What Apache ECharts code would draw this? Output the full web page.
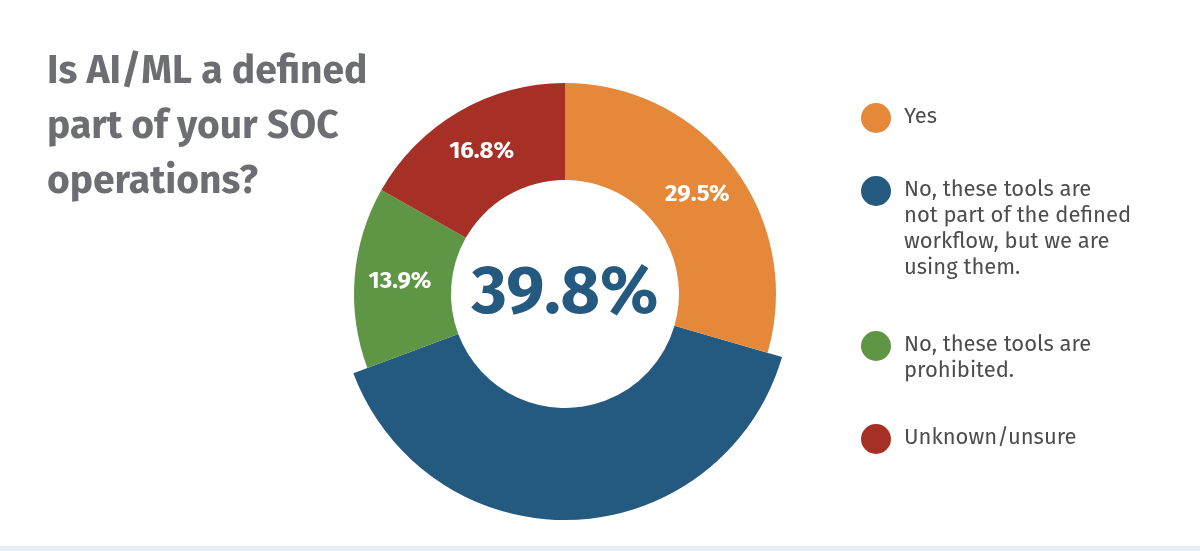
<!DOCTYPE html>
<html><head><meta charset="utf-8">
<script src="https://cdn.jsdelivr.net/npm/echarts@6/dist/echarts.min.js"></script>
<style>html,body{margin:0;padding:0;background:#fff}#c{width:1200px;height:551px}</style>
</head><body><div id="c"></div>
<script>
const categories = ["Yes","No, these tools are not part of the defined workflow, but we are using them.","No, these tools are prohibited.","Unknown/unsure"];
const legendLines = [["Yes"],["No, these tools are","not part of the defined","workflow, but we are","using them."],["No, these tools are","prohibited."],["Unknown/unsure"]];
const values = [29.5, 39.8, 13.9, 16.8];
const colors = ["#e5883a","#245a80","#5e9646","#a62f26"];
const highlightIndex = 1;

const chart = echarts.init(document.getElementById('c'));
const font = "'Fira Sans','Open Sans',sans-serif";
const base = values.map((v,i)=>({name:categories[i],value:v,itemStyle:{color:i===highlightIndex?'rgba(0,0,0,0)':colors[i]},label:{show:i!==highlightIndex}}));
const big = values.map((v,i)=>({name:categories[i],value:v,itemStyle:{color:i===highlightIndex?colors[i]:'rgba(0,0,0,0)'},label:{show:false}}));

const legendTops=[104,177,332,425];
const graphic=[];
legendLines.forEach((lines,i)=>{
  graphic.push({type:'circle',shape:{cx:876,cy:legendTops[i]+14,r:15},style:{fill:colors[i]}});
  graphic.push({type:'text',left:904,top:legendTops[i],style:{text:lines.join('\n'),fontSize:22,lineHeight:26,fill:'#4d4d4f',fontFamily:font}});
});
graphic.push({type:'rect',shape:{x:0,y:546,width:1200,height:5},style:{fill:'#e6ecf3'}});

chart.setOption({
  backgroundColor:'#fff',
  title:{text:'Is AI/ML a defined\npart of your SOC\noperations?',left:42,top:40,textStyle:{fontSize:39,fontWeight:'bold',color:'#6d6e71',lineHeight:55,fontFamily:font}},
  graphic,
  series:[
    {type:'pie',center:[565,294],radius:[114,211],startAngle:90,clockwise:true,silent:true,
     data:base,label:{position:'inside',color:'#fff',fontSize:24,fontWeight:'bold',fontFamily:font,formatter:p=>p.value.toFixed(1)+'%'},labelLine:{show:false}},
    {type:'pie',center:[565,294],radius:[114,226],startAngle:90,clockwise:true,silent:true,z:1,
     data:big,label:{show:false},labelLine:{show:false}},
    {type:'pie',center:[565,294],radius:[0,0],silent:true,data:[{value:1,itemStyle:{color:'transparent'}}],
     label:{show:true,position:'center',formatter:values[highlightIndex].toFixed(1)+'%',fontSize:68,fontWeight:'bold',color:colors[highlightIndex],fontFamily:font},labelLine:{show:false}}
  ]
});
</script></body></html>
